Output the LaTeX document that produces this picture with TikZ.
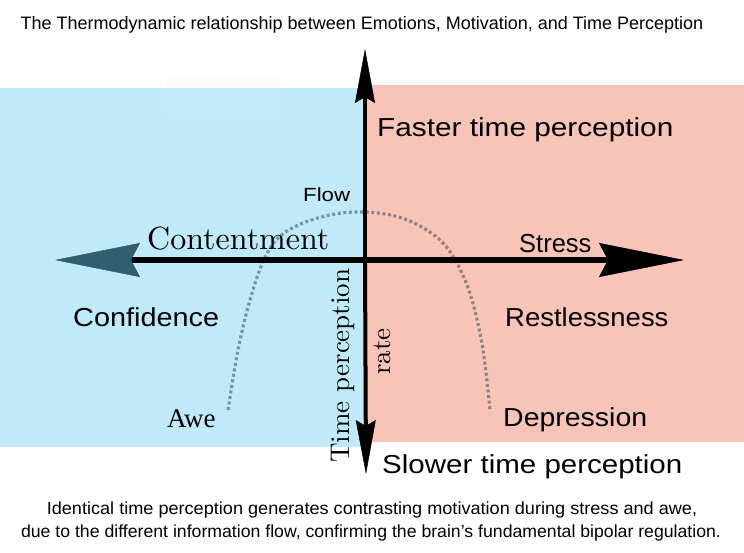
\documentclass[tikz,border=0pt]{standalone}
\usepackage{graphicx}
\usepackage{fontspec}
\usetikzlibrary{arrows.meta}
\newfontfamily\arialf{Liberation Sans}
\newfontfamily\timesf{Liberation Serif}
\newfontfamily\lmten{lmroman10-regular}[Extension=.otf]
\definecolor{bluebg}{RGB}{192,234,249}
\definecolor{pinkbg}{RGB}{249,196,184}
\definecolor{tealtip}{RGB}{47,95,110}
\definecolor{arcc}{RGB}{60,80,95}
\begin{document}
\begin{tikzpicture}[x=1pt,y=-1pt,
  lbl/.style={inner sep=0pt, anchor=base west},
  big/.style={lbl, font=\arialf\fontsize{26}{30}\selectfont},
  small/.style={inner sep=0pt, anchor=base, font=\arialf\fontsize{17.5}{21}\selectfont},
  lm/.style={lbl, font=\lmten\fontsize{27}{30}\selectfont},
  axisH/.style={line width=6pt},
  axisV/.style={line width=4pt},
  hhead/.style={-{Stealth[length=85pt,width=34pt,inset=9pt,line width=0.5pt]}},
  vhead/.style={-{Stealth[length=54pt,width=20pt,inset=6pt,line width=0.5pt]}}]
\useasboundingbox (0,0) rectangle (744,552);
\fill[white] (0,0) rectangle (744,552);
% backgrounds
\fill[bluebg] (0,88) rectangle (365,447);
\fill[pinkbg] (365,85) rectangle (744,442);
\fill[black!2!white, fill opacity=0.6] (166,78) rectangle (281,88);
\fill[white, fill opacity=0.04] (166,88) rectangle (281,118);
% dotted arc
\draw[arcc, opacity=0.55, line width=3.2pt, dash pattern=on 3pt off 2.6pt]
  plot[smooth, tension=0.6] coordinates {(228,410) (238,350) (250,300) (263,262) (278,238) (303,223) (335,214) (365,212) (395,216) (420,226) (442,242) (458,265) (472,300) (483,350) (490,410)};
% axes
\coordinate (O) at (365,260);
\coordinate (L) at (55,260);
\coordinate (R) at (684,260);
\coordinate (T) at (365,49);
\coordinate (B) at (366,474);
\draw[axisV, vhead] (O) -- (T);
\draw[axisV, vhead] (O) -- (B);
\draw[axisH, -{Stealth[length=85pt,width=34pt,inset=9pt,line width=0.5pt,color=tealtip]}] (O) -- (L);
\draw[axisH, hhead] (O) -- (R);
% texts
\node[small, font=\arialf\fontsize{18}{21}\selectfont] (title) at (362,29) {The Thermodynamic relationship between Emotions, Motivation, and Time Perception};
\node[big] (faster) at (377,136) {\scalebox{1.145}[1]{Faster time perception}};
\node[lbl, font=\arialf\fontsize{19}{22}\selectfont] (flow) at (303,201) {\scalebox{1.17}[1]{Flow}};
\node[lm, font=\lmten\fontsize{32}{35}\selectfont] (content) at (147,249) {Contentment};
\node[big] (stress) at (519,252) {\scalebox{0.98}[1]{Stress}};
\node[big] (conf) at (73,326) {\scalebox{1.11}[1]{Confidence}};
\node[big] (restl) at (505,326) {\scalebox{1.056}[1]{Restlessness}};
\node[lbl, font=\timesf\fontsize{27}{30}\selectfont] (awe) at (167,427) {Awe};
\node[big] (depr) at (503,426) {\scalebox{1.095}[1]{Depression}};
\node[big] (slower) at (382,473) {\scalebox{1.135}[1]{Slower time perception}};
\node[lm, rotate=90] (tp) at (349,463) {Time perception};
\node[lm, rotate=90] (rate) at (390,375) {rate};
\node[small] (cap1) at (372,514) {\scalebox{1.035}[1]{Identical time perception generates contrasting motivation during stress and awe,}};
\node[small] (cap2) at (371,537) {\scalebox{1.01}[1]{due to the different information flow, confirming the brain’s fundamental bipolar regulation.}};
\end{tikzpicture}
\end{document}
